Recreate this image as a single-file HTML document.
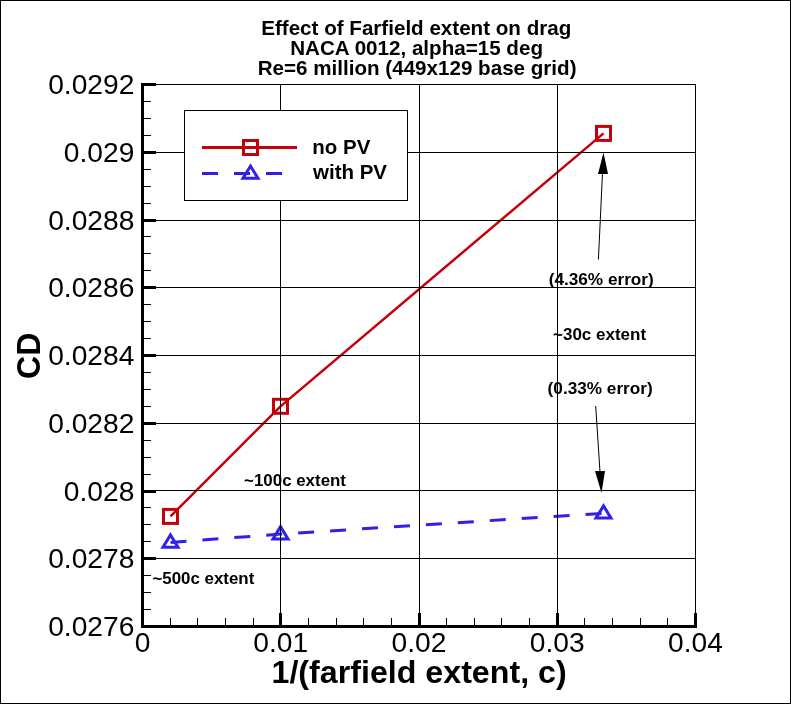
<!DOCTYPE html>
<html><head><meta charset="utf-8"><title>Effect of Farfield extent on drag</title>
<style>html,body{margin:0;padding:0;background:#fff;}body{width:791px;height:704px;overflow:hidden;}svg{display:block;will-change:transform;}text{font-family:"Liberation Sans",sans-serif;fill:#000;}</style>
</head><body>
<svg width="791" height="704" viewBox="0 0 791 704">
<rect x="0" y="0" width="791" height="704" fill="#fff"/>
<rect x="0.5" y="0.5" width="790" height="703" fill="none" stroke="#000" stroke-width="1" shape-rendering="crispEdges"/>
<polyline points="170.5,516.4 280.5,406.3 603.5,133.4" fill="none" stroke="#c4000a" stroke-width="2.5"/>
<polyline points="170.5,542.4 280.5,534.1 603.5,513.3" fill="none" stroke="#3020e8" stroke-width="3" stroke-dasharray="16 16"/>
<rect x="163.5" y="509.4" width="14" height="14" fill="none" stroke="#c4000a" stroke-width="3"/>
<rect x="273.5" y="399.3" width="14" height="14" fill="none" stroke="#c4000a" stroke-width="3"/>
<rect x="596.5" y="126.4" width="14" height="14" fill="none" stroke="#c4000a" stroke-width="3"/>
<polygon points="170.5,534.96 178.02,547.20 162.98,547.20" fill="none" stroke="#3020e8" stroke-width="3" stroke-linejoin="miter"/>
<polygon points="280.5,526.66 288.02,538.90 272.98,538.90" fill="none" stroke="#3020e8" stroke-width="3" stroke-linejoin="miter"/>
<polygon points="603.5,505.86 611.02,518.10 595.98,518.10" fill="none" stroke="#3020e8" stroke-width="3" stroke-linejoin="miter"/>
<g stroke="#000" stroke-width="1" shape-rendering="crispEdges">
<line x1="280.5" y1="84" x2="280.5" y2="626"/>
<line x1="419.5" y1="84" x2="419.5" y2="626"/>
<line x1="557.5" y1="84" x2="557.5" y2="626"/>
<line x1="695.5" y1="84" x2="695.5" y2="626"/>
<line x1="143" y1="558.5" x2="696" y2="558.5"/>
<line x1="143" y1="490.5" x2="696" y2="490.5"/>
<line x1="143" y1="423.5" x2="696" y2="423.5"/>
<line x1="143" y1="355.5" x2="696" y2="355.5"/>
<line x1="143" y1="287.5" x2="696" y2="287.5"/>
<line x1="143" y1="220.5" x2="696" y2="220.5"/>
<line x1="143" y1="152.5" x2="696" y2="152.5"/>
<line x1="143" y1="84.5" x2="696" y2="84.5"/>
</g>
<g stroke="#000" stroke-width="1" shape-rendering="crispEdges">
<line x1="144" y1="609.5" x2="151" y2="609.5"/>
<line x1="144" y1="592.5" x2="151" y2="592.5"/>
<line x1="144" y1="575.5" x2="151" y2="575.5"/>
<line x1="144" y1="541.5" x2="151" y2="541.5"/>
<line x1="144" y1="524.5" x2="151" y2="524.5"/>
<line x1="144" y1="507.5" x2="151" y2="507.5"/>
<line x1="144" y1="474.5" x2="151" y2="474.5"/>
<line x1="144" y1="457.5" x2="151" y2="457.5"/>
<line x1="144" y1="440.5" x2="151" y2="440.5"/>
<line x1="144" y1="406.5" x2="151" y2="406.5"/>
<line x1="144" y1="389.5" x2="151" y2="389.5"/>
<line x1="144" y1="372.5" x2="151" y2="372.5"/>
<line x1="144" y1="338.5" x2="151" y2="338.5"/>
<line x1="144" y1="321.5" x2="151" y2="321.5"/>
<line x1="144" y1="304.5" x2="151" y2="304.5"/>
<line x1="144" y1="270.5" x2="151" y2="270.5"/>
<line x1="144" y1="253.5" x2="151" y2="253.5"/>
<line x1="144" y1="236.5" x2="151" y2="236.5"/>
<line x1="144" y1="203.5" x2="151" y2="203.5"/>
<line x1="144" y1="186.5" x2="151" y2="186.5"/>
<line x1="144" y1="169.5" x2="151" y2="169.5"/>
<line x1="144" y1="135.5" x2="151" y2="135.5"/>
<line x1="144" y1="118.5" x2="151" y2="118.5"/>
<line x1="144" y1="101.5" x2="151" y2="101.5"/>
<line x1="170.5" y1="618" x2="170.5" y2="625"/>
<line x1="197.5" y1="618" x2="197.5" y2="625"/>
<line x1="225.5" y1="618" x2="225.5" y2="625"/>
<line x1="253.5" y1="618" x2="253.5" y2="625"/>
<line x1="308.5" y1="618" x2="308.5" y2="625"/>
<line x1="336.5" y1="618" x2="336.5" y2="625"/>
<line x1="363.5" y1="618" x2="363.5" y2="625"/>
<line x1="391.5" y1="618" x2="391.5" y2="625"/>
<line x1="446.5" y1="618" x2="446.5" y2="625"/>
<line x1="474.5" y1="618" x2="474.5" y2="625"/>
<line x1="501.5" y1="618" x2="501.5" y2="625"/>
<line x1="529.5" y1="618" x2="529.5" y2="625"/>
<line x1="584.5" y1="618" x2="584.5" y2="625"/>
<line x1="612.5" y1="618" x2="612.5" y2="625"/>
<line x1="640.5" y1="618" x2="640.5" y2="625"/>
<line x1="667.5" y1="618" x2="667.5" y2="625"/>
</g>
<g fill="#000" shape-rendering="crispEdges">
<rect x="141" y="625" width="15" height="3"/>
<rect x="141" y="557" width="15" height="3"/>
<rect x="141" y="490" width="15" height="3"/>
<rect x="141" y="422" width="15" height="3"/>
<rect x="141" y="354" width="15" height="3"/>
<rect x="141" y="286" width="15" height="3"/>
<rect x="141" y="219" width="15" height="3"/>
<rect x="141" y="151" width="15" height="3"/>
<rect x="141" y="83" width="15" height="3"/>
<rect x="141" y="613" width="3" height="15"/>
<rect x="279" y="613" width="3" height="15"/>
<rect x="418" y="613" width="3" height="15"/>
<rect x="556" y="613" width="3" height="15"/>
<rect x="694" y="613" width="3" height="15"/>
<rect x="141" y="83" width="3" height="545"/>
<rect x="141" y="625" width="556" height="3"/>
</g>
<rect x="184.5" y="110.5" width="223" height="90" fill="#fff" stroke="#000" stroke-width="1" shape-rendering="crispEdges"/>
<line x1="202" y1="147.5" x2="297" y2="147.5" stroke="#c4000a" stroke-width="3" shape-rendering="crispEdges"/>
<rect x="243.5" y="140.5" width="14" height="14" fill="none" stroke="#c4000a" stroke-width="3"/>
<line x1="202" y1="173.5" x2="298" y2="173.5" stroke="#3020e8" stroke-width="3" stroke-dasharray="16 16" shape-rendering="crispEdges"/>
<polygon points="250.5,166.06 258.02,178.30 242.98,178.30" fill="none" stroke="#3020e8" stroke-width="3" stroke-linejoin="miter"/>
<text x="312.3" y="153.5" font-size="20.5" font-weight="bold">no PV</text>
<text x="313" y="179.4" font-size="20.5" font-weight="bold">with PV</text>
<g stroke="#000" stroke-width="1" fill="#000">
<line x1="598.4" y1="259.5" x2="602.5" y2="173"/>
<polygon points="603.5,152.6 598,174 608,174" stroke="none"/>
<line x1="595.7" y1="406" x2="600" y2="472"/>
<polygon points="601.5,493 595,471 605,471" stroke="none"/>
</g>
<g font-weight="bold" font-size="16.9">
<text x="548.7" y="284.8" font-size="17.2">(4.36% error)</text>
<text x="553" y="339.6" font-size="17">~30c extent</text>
<text x="547.6" y="394.1" font-size="17.2">(0.33% error)</text>
<text x="244.1" y="485.7">~100c extent</text>
<text x="152.4" y="583.9">~500c extent</text>
</g>
<g font-weight="bold" font-size="20.6" text-anchor="middle">
<text x="416.25" y="34.6">Effect of Farfield extent on drag</text>
<text x="416.6" y="54.8">NACA 0012, alpha=15 deg</text>
<text x="417.15" y="75.3">Re=6 million (449x129 base grid)</text>
</g>
<g font-size="28.2">
<text x="134.4" y="636.20" text-anchor="end">0.0276</text>
<text x="134.4" y="568.45" text-anchor="end">0.0278</text>
<text x="134.4" y="500.70" text-anchor="end">0.028</text>
<text x="134.4" y="432.95" text-anchor="end">0.0282</text>
<text x="134.4" y="365.20" text-anchor="end">0.0284</text>
<text x="134.4" y="297.45" text-anchor="end">0.0286</text>
<text x="134.4" y="229.70" text-anchor="end">0.0288</text>
<text x="134.4" y="161.95" text-anchor="end">0.029</text>
<text x="134.4" y="94.20" text-anchor="end">0.0292</text>
<text x="142.50" y="652" text-anchor="middle">0</text>
<text x="280.75" y="652" text-anchor="middle">0.01</text>
<text x="419.00" y="652" text-anchor="middle">0.02</text>
<text x="557.25" y="652" text-anchor="middle">0.03</text>
<text x="695.50" y="652" text-anchor="middle">0.04</text>
</g>
<text x="419.1" y="683" font-size="32.2" font-weight="bold" text-anchor="middle">1/(farfield extent, c)</text>
<text transform="translate(40,355.75) rotate(-90) scale(0.971,1)" font-size="33" font-weight="bold" text-anchor="middle">CD</text>
</svg>
</body></html>
